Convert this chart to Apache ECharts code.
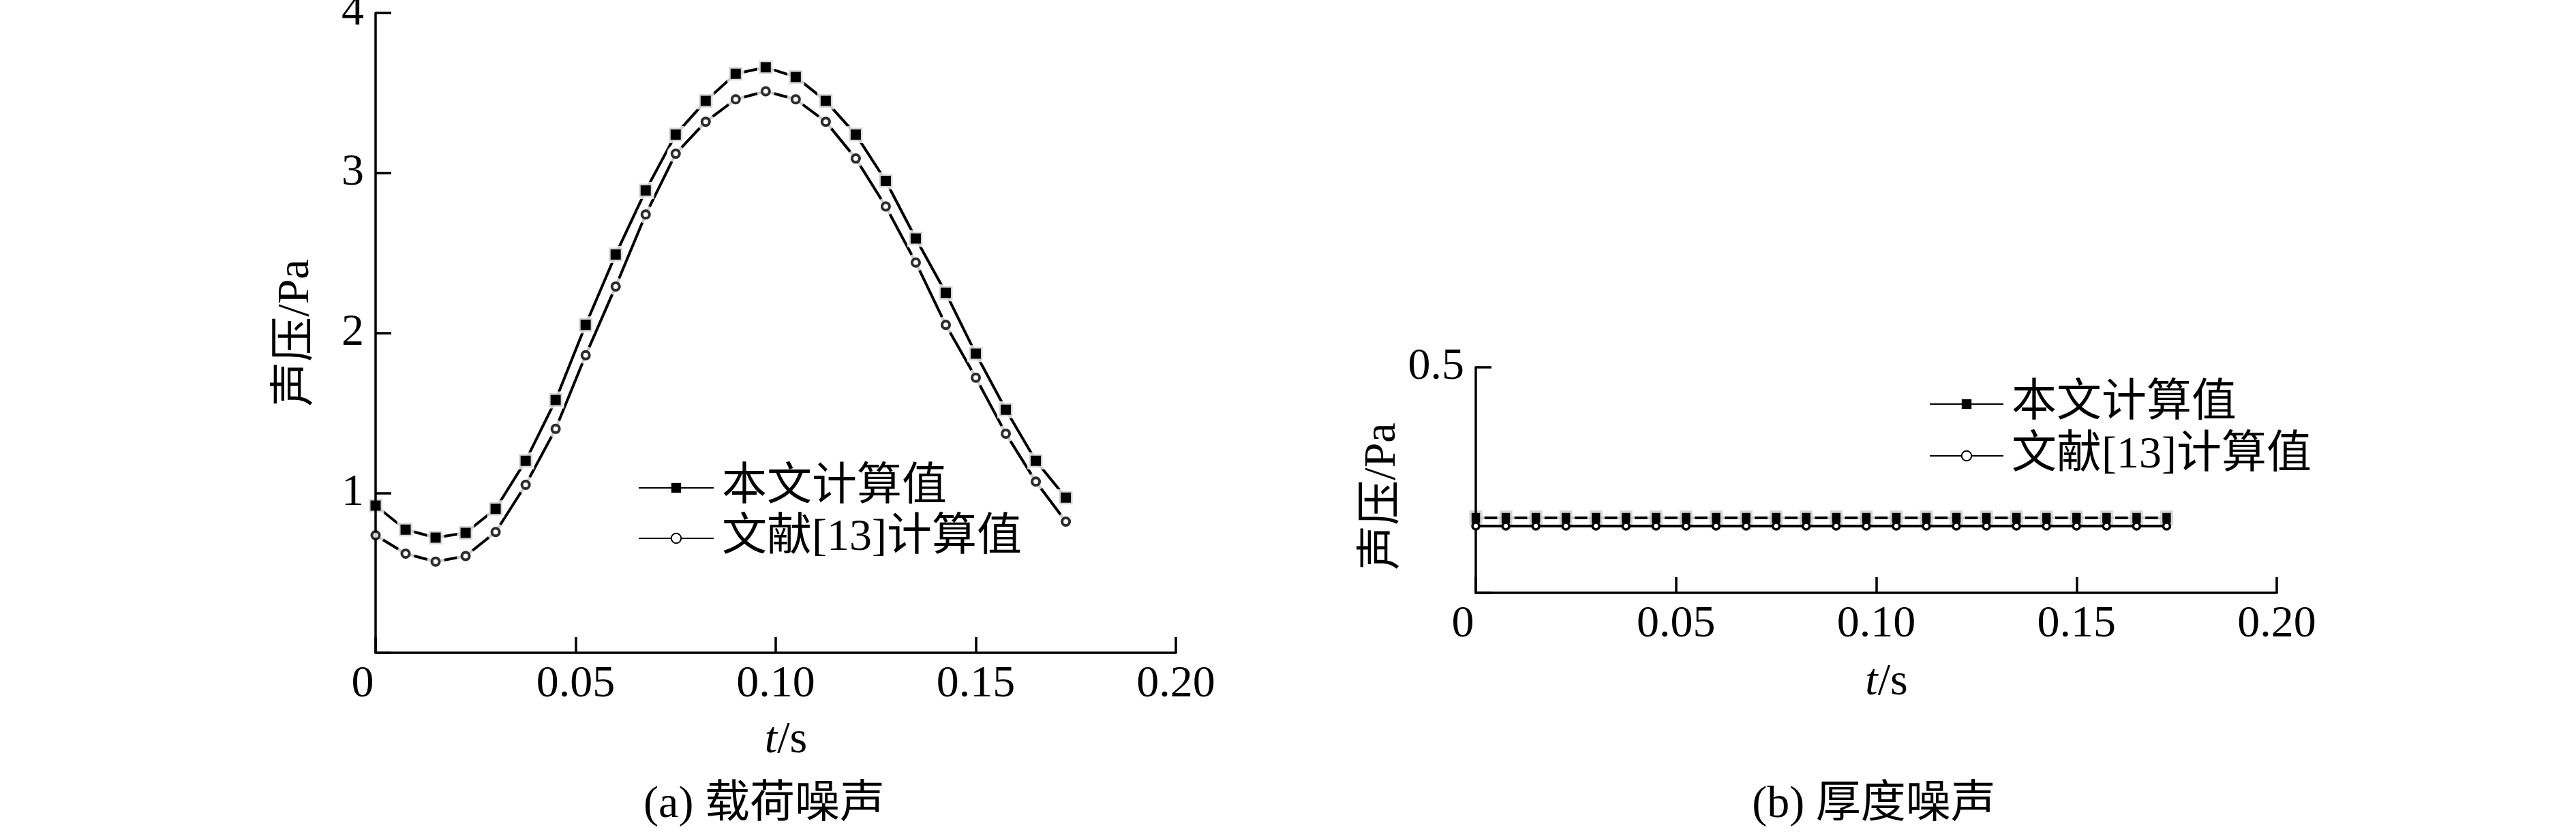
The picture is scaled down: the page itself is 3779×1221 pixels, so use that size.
<!DOCTYPE html>
<html>
<head>
<meta charset="utf-8">
<script src="https://cdn.jsdelivr.net/npm/echarts@6/dist/echarts.min.js"></script>
<style>
html,body{margin:0;padding:0;background:#fff;}
#chart{width:3779px;height:1221px;}
</style>
</head>
<body>
<div id="chart"></div>
<script>
// ---- data ----
const T = [0, 0.0075, 0.015, 0.0225, 0.03, 0.0375, 0.045, 0.0525, 0.06, 0.0675, 0.075, 0.0825,
           0.09, 0.0975, 0.105, 0.1125, 0.12, 0.1275, 0.135, 0.1425, 0.15, 0.1575, 0.165, 0.1725];
// (a) 载荷噪声
const A_CALC = [0.92, 0.77, 0.72, 0.75, 0.90, 1.20, 1.58, 2.05, 2.49, 2.89, 3.24, 3.45,
                3.62, 3.66, 3.60, 3.45, 3.24, 2.95, 2.59, 2.25, 1.87, 1.52, 1.20, 0.97];
const A_REF  = [0.735, 0.62, 0.57, 0.605, 0.755, 1.05, 1.40, 1.86, 2.29, 2.74, 3.12, 3.32,
                3.46, 3.51, 3.46, 3.32, 3.09, 2.79, 2.44, 2.05, 1.72, 1.37, 1.07, 0.82];
// (b) 厚度噪声
const B_CALC = [0.166, 0.166, 0.166, 0.166, 0.166, 0.166, 0.166, 0.166, 0.166, 0.166, 0.166, 0.166,
                0.166, 0.166, 0.166, 0.166, 0.166, 0.166, 0.166, 0.166, 0.166, 0.166, 0.166, 0.166];
const B_REF  = [0.148, 0.148, 0.148, 0.148, 0.148, 0.148, 0.148, 0.148, 0.148, 0.148, 0.148, 0.148,
                0.148, 0.148, 0.148, 0.148, 0.148, 0.148, 0.148, 0.148, 0.148, 0.148, 0.148, 0.148];
const X_TICKS = [0, 0.05, 0.10, 0.15, 0.20];
const X_TICK_LABELS = ['0', '0.05', '0.10', '0.15', '0.20'];
const YA_TICKS = [1, 2, 3, 4];
const YA_TICK_LABELS = ['1', '2', '3', '4'];
const YB_TICKS = [0.5];
const YB_TICK_LABELS = ['0.5'];
const SERIES_NAMES = ['本文计算值', '文献[13]计算值'];
const PANEL_TITLES = ['(a) 载荷噪声', '(b) 厚度噪声'];
const Y_NAME = '声压/Pa';

// ---- helpers ----
const FONT = "'Liberation Serif', 'Times New Roman', 'Noto Sans CJK SC', serif";
const FS = 66;
const pairs = (xs, ys) => xs.map((x, i) => [x, ys[i]]);
const lookup = (ticks, labels, v) => {
  for (let i = 0; i < ticks.length; i++) if (Math.abs(ticks[i] - v) < 1e-9) return labels[i];
  return '';
};

function xAxisFor(gridIndex, nameGap) {
  return {
    type: 'value', gridIndex, min: 0, max: 0.2, interval: 0.05,
    name: '{i|t}/s', nameLocation: 'middle', nameGap,
    nameTextStyle: {
      fontFamily: FONT, fontSize: FS, lineHeight: FS, color: '#000', padding: [0, 0, 0, 30],
      rich: { i: { fontFamily: FONT, fontSize: FS, fontStyle: 'italic', color: '#000' } }
    },
    axisLine: { show: true, onZero: false, lineStyle: { color: '#000', width: 3.5 } },
    axisTick: { show: true, inside: true, length: 23, lineStyle: { color: '#000', width: 3.5 } },
    splitLine: { show: false },
    axisLabel: {
      margin: 14, fontFamily: FONT, fontSize: FS, lineHeight: FS, color: '#000',
      formatter: v => {
        const s = lookup(X_TICKS, X_TICK_LABELS, v);
        return Math.abs(v) < 1e-9 ? '{z|' + s + '}' : s;
      },
      rich: { z: { fontFamily: FONT, fontSize: FS, lineHeight: FS, color: '#000', padding: [0, 38, 0, 0] } }
    },
    z: 5
  };
}

function yAxisFor(gridIndex, max, interval, ticks, labels, nameGap, namePad) {
  return {
    type: 'value', gridIndex, min: 0, max, interval,
    name: Y_NAME, nameLocation: 'middle', nameGap, nameRotate: 90,
    nameTextStyle: { fontFamily: FONT, fontSize: FS, lineHeight: FS, color: '#000', padding: namePad },
    axisLine: { show: true, onZero: false, lineStyle: { color: '#000', width: 3.5 } },
    axisTick: { show: true, inside: true, length: 23, lineStyle: { color: '#000', width: 3.5 } },
    splitLine: { show: false },
    axisLabel: {
      margin: 17, fontFamily: FONT, fontSize: FS, lineHeight: FS, color: '#000',
      formatter: v => lookup(ticks, labels, v)
    },
    z: 5
  };
}

const lineBase = { type: 'line', silent: true, animation: false, clip: false, showSymbol: true };
const scatterBase = { type: 'scatter', silent: true, animation: false, clip: false };

const option = {
  animation: false,
  backgroundColor: '#fff',
  grid: [
    { left: 551, top: 19, width: 1174, height: 939, outerBoundsMode: 'none', containLabel: false },
    { left: 2165, top: 539, width: 1175, height: 331, outerBoundsMode: 'none', containLabel: false }
  ],
  xAxis: [xAxisFor(0, 96), xAxisFor(1, 99)],
  yAxis: [
    yAxisFor(0, 4, 1, YA_TICKS, YA_TICK_LABELS, 83, [0, 0, 0, 0]),
    yAxisFor(1, 0.5, 0.5, YB_TICKS, YB_TICK_LABELS, 93, [0, 48, 0, 0])
  ],
  title: [
    { text: PANEL_TITLES[0], left: 1121, top: 1149, textAlign: 'center', padding: 0,
      textStyle: { fontFamily: FONT, fontSize: FS, lineHeight: FS, fontWeight: 'normal', color: '#000' } },
    { text: PANEL_TITLES[1], left: 2749, top: 1149, textAlign: 'center', padding: 0,
      textStyle: { fontFamily: FONT, fontSize: FS, lineHeight: FS, fontWeight: 'normal', color: '#000' } }
  ],
  legend: [
    { data: SERIES_NAMES, orient: 'vertical', left: 936, top: 683, padding: 0, itemGap: 8,
      itemWidth: 110, itemHeight: 18, selectedMode: false,
      textStyle: { fontFamily: FONT, fontSize: FS, lineHeight: FS, color: '#000', padding: [0, 0, 0, 7] } },
    { data: SERIES_NAMES, orient: 'vertical', left: 2830, top: 560, padding: 0, itemGap: 10,
      itemWidth: 108, itemHeight: 18, selectedMode: false,
      textStyle: { fontFamily: FONT, fontSize: FS, lineHeight: FS, color: '#000', padding: [0, 0, 0, 7] } }
  ],
  series: [
    // ---- panel (a) ----
    Object.assign({}, lineBase, {
      name: SERIES_NAMES[0], xAxisIndex: 0, yAxisIndex: 0, data: pairs(T, A_CALC),
      symbol: 'rect', symbolSize: 15, itemStyle: { color: '#000' },
      lineStyle: { color: '#000', width: 4 }, z: 2
    }),
    Object.assign({}, lineBase, {
      name: SERIES_NAMES[1], xAxisIndex: 0, yAxisIndex: 0, data: pairs(T, A_REF),
      symbol: 'circle', symbolSize: 11, itemStyle: { color: '#fff', borderColor: '#000', borderWidth: 4 },
      lineStyle: { color: '#000', width: 4 }, z: 2
    }),
    Object.assign({}, scatterBase, {
      name: 'a-calc-marker', xAxisIndex: 0, yAxisIndex: 0, data: pairs(T, A_CALC),
      symbol: 'rect', symbolSize: 20, itemStyle: { color: '#000', borderColor: '#fff', borderWidth: 5 }, z: 4
    }),
    Object.assign({}, scatterBase, {
      name: 'a-ref-halo', xAxisIndex: 0, yAxisIndex: 0, data: pairs(T, A_REF),
      symbol: 'circle', symbolSize: 26, itemStyle: { color: '#fff' }, z: 4
    }),
    Object.assign({}, scatterBase, {
      name: 'a-ref-marker', xAxisIndex: 0, yAxisIndex: 0, data: pairs(T, A_REF),
      symbol: 'circle', symbolSize: 11, itemStyle: { color: '#fff', borderColor: '#000', borderWidth: 4 }, z: 6
    }),
    // ---- panel (b) ----
    Object.assign({}, lineBase, {
      name: SERIES_NAMES[0], xAxisIndex: 1, yAxisIndex: 1, data: pairs(T, B_CALC),
      symbol: 'rect', symbolSize: [12, 15], itemStyle: { color: '#000' },
      lineStyle: { color: '#000', width: 4 }, z: 2
    }),
    Object.assign({}, scatterBase, {
      name: 'b-calc-marker', xAxisIndex: 1, yAxisIndex: 1, data: pairs(T, B_CALC),
      symbol: 'rect', symbolSize: [19, 22], itemStyle: { color: '#000', borderColor: '#fff', borderWidth: 7 }, z: 4
    }),
    Object.assign({}, lineBase, {
      name: SERIES_NAMES[1], xAxisIndex: 1, yAxisIndex: 1, data: pairs(T, B_REF),
      symbol: 'circle', symbolSize: 10, itemStyle: { color: '#fff', borderColor: '#000', borderWidth: 3.5 },
      lineStyle: { color: '#000', width: 4 }, z: 6
    })
  ]
};

const chart = echarts.init(document.getElementById('chart'), null, { renderer: 'canvas' });
chart.setOption(option);
</script>
</body>
</html>
